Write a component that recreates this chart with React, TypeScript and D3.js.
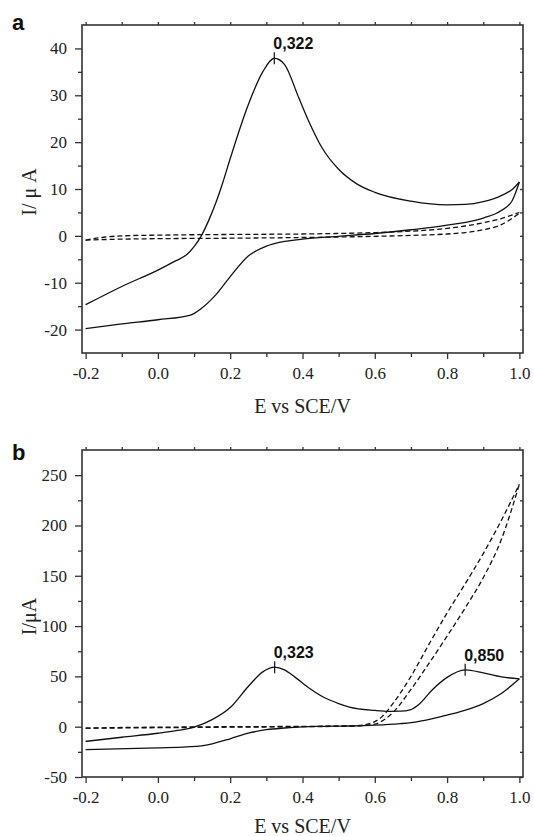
import React, { useEffect, useRef } from 'react';
import * as d3 from 'd3';

type Pt = [number, number];

// E (V vs SCE), I (µA); branches listed in ascending E
const aSolidForward: Pt[] = [
  [-0.2, -14.7], [-0.1, -10.8], [0.0, -7.3], [0.05, -5.3], [0.08, -4.0], [0.1, -2.3],
  [0.12, 0.0], [0.14, 3.2], [0.16, 7.0], [0.18, 11.5], [0.2, 16.5], [0.25, 28.0],
  [0.29, 35.0], [0.322, 37.9], [0.35, 36.6], [0.39, 29.4], [0.42, 24.0], [0.454, 18.8],
  [0.5, 14.2], [0.55, 11.1], [0.6, 9.3], [0.7, 7.4], [0.8, 6.6], [0.85, 6.7], [0.9, 7.3],
  [0.95, 8.6], [0.98, 9.9], [1.0, 11.5]
];
const aSolidReverse: Pt[] = [
  [-0.2, -19.8], [-0.1, -18.8], [0.0, -17.9], [0.09, -16.9], [0.12, -15.5], [0.16, -12.6],
  [0.2, -8.7], [0.25, -4.3], [0.3, -2.2], [0.35, -1.2], [0.4, -0.7], [0.5, -0.1],
  [0.6, 0.5], [0.7, 1.3], [0.8, 2.3], [0.9, 3.8], [0.95, 5.4], [0.98, 7.5], [1.0, 11.5]
];
const aDashedUpper: Pt[] = [
  [-0.2, -0.9], [-0.15, -0.3], [-0.1, 0.0], [0.0, 0.15], [0.2, 0.3], [0.4, 0.4],
  [0.6, 0.7], [0.7, 1.0], [0.8, 1.6], [0.85, 2.1], [0.9, 2.8], [0.95, 3.7], [1.0, 5.0]
];
const aDashedLower: Pt[] = [
  [-0.2, -0.9], [-0.1, -0.7], [0.0, -0.6], [0.2, -0.5], [0.4, -0.35], [0.6, -0.1],
  [0.7, 0.1], [0.8, 0.4], [0.85, 0.7], [0.9, 1.3], [0.95, 2.4], [1.0, 4.8]
];
const aPeakE = [0.322];
const aPeakI = [37.9];
const aPeakLabels = ['0,322'];

const bSolidForward: Pt[] = [
  [-0.2, -14.6], [-0.1, -10.5], [0.0, -6.5], [0.05, -4.0], [0.1, -0.5], [0.15, 7.0],
  [0.2, 19.0], [0.25, 40.0], [0.29, 54.5], [0.323, 59.2], [0.35, 56.5], [0.38, 49.0],
  [0.42, 38.0], [0.46, 29.0], [0.5, 23.0], [0.53, 19.5], [0.6, 16.2], [0.64, 15.3],
  [0.67, 15.4], [0.7, 17.0], [0.72, 21.5], [0.76, 37.0], [0.8, 49.0], [0.85, 56.5],
  [0.9, 53.5], [0.95, 49.5], [1.0, 47.6]
];
const bSolidReverse: Pt[] = [
  [-0.2, -22.8], [0.0, -21.0], [0.08, -20.0], [0.12, -19.0], [0.15, -17.0], [0.2, -12.0],
  [0.25, -6.5], [0.3, -3.0], [0.35, -1.3], [0.4, -0.2], [0.45, 0.3], [0.53, 0.7],
  [0.6, 1.5], [0.67, 3.0], [0.7, 4.0], [0.76, 8.0], [0.8, 11.5], [0.86, 17.5],
  [0.9, 23.0], [0.95, 33.0], [1.0, 47.6]
];
const bDashedLeft: Pt[] = [
  [-0.2, -1.5], [-0.1, -0.8], [0.0, -0.5], [0.2, 0.0], [0.4, 0.3], [0.5, 0.6],
  [0.55, 1.0], [0.58, 2.5], [0.6, 5.0], [0.62, 10.0], [0.65, 23.0], [0.7, 50.0],
  [0.75, 82.0], [0.8, 113.0], [0.85, 142.0], [0.9, 172.0], [0.95, 205.0], [1.0, 241.0]
];
const bDashedRight: Pt[] = [
  [-0.2, -1.5], [0.0, -1.0], [0.2, -0.5], [0.4, 0.0], [0.5, 0.4], [0.55, 0.8],
  [0.6, 2.5], [0.63, 8.0], [0.65, 14.0], [0.7, 37.0], [0.75, 63.0], [0.8, 90.0],
  [0.85, 118.0], [0.9, 148.0], [0.95, 186.0], [1.0, 241.0]
];
const bPeakE = [0.323, 0.85];
const bPeakI = [59.2, 56.5];
const bPeakLabels = ['0,323', '0,850'];

const xMajor = [-0.2, 0.0, 0.2, 0.4, 0.6, 0.8, 1.0];
const xMinor = [-0.1, 0.1, 0.3, 0.5, 0.7, 0.9];
const aYMajor = [-20, -10, 0, 10, 20, 30, 40];
const aYMinor = [-15, -5, 5, 15, 25, 35];
const bYMajor = [-50, 0, 50, 100, 150, 200, 250];
const bYMinor = [-25, 25, 75, 125, 175, 225];

const W = 534;
const H = 836;
const left = 82;
const right = 523;

const serif = '"Liberation Serif", "Times New Roman", serif';
const sans = '"Liberation Sans", Arial, sans-serif';

const App = () => {
  const ref = useRef<SVGSVGElement>(null);

  useEffect(() => {
    const svg = d3.select(ref.current);
    svg.selectAll('*').remove();

    const panels = [
      {
        tag: 'a', top: 25, bottom: 353, yDomain: [-25, 45], yMajor: aYMajor, yMinor: aYMinor,
        solid: [aSolidForward, aSolidReverse], dashed: [aDashedUpper, aDashedLower],
        peakE: aPeakE, peakI: aPeakI, peakLabels: aPeakLabels,
        yTitle: 'I/ \u03bc A', tagY: 30, titleY: 413
      },
      {
        tag: 'b', top: 450, bottom: 777, yDomain: [-50, 275], yMajor: bYMajor, yMinor: bYMinor,
        solid: [bSolidForward, bSolidReverse], dashed: [bDashedLeft, bDashedRight],
        peakE: bPeakE, peakI: bPeakI, peakLabels: bPeakLabels,
        yTitle: 'I/\u03bcA', tagY: 460, titleY: 833
      }
    ];

    const x = d3.scaleLinear().domain([-0.21, 1.01]).range([left, right]);

    panels.forEach(p => {
      const y = d3.scaleLinear().domain(p.yDomain).range([p.bottom, p.top]);
      const g = svg.append('g');

      const tickStyle = (sel: any) => {
        sel.select('.domain').remove();
        sel.selectAll('line').attr('stroke', '#333').attr('stroke-width', 1.3);
      };
      // minor ticks
      g.append('g').attr('transform', `translate(0,${p.bottom})`)
        .call(d3.axisBottom(x).tickValues(xMinor).tickSize(4).tickFormat(() => ''))
        .call(tickStyle);
      g.append('g').attr('transform', `translate(${left},0)`)
        .call(d3.axisLeft(y).tickValues(p.yMinor).tickSize(4).tickFormat(() => ''))
        .call(tickStyle);
      // top & right small ticks
      g.append('g').attr('transform', `translate(0,${p.top})`)
        .call(d3.axisTop(x).tickValues([...xMajor, ...xMinor]).tickSize(3).tickFormat(() => ''))
        .call(tickStyle);
      g.append('g').attr('transform', `translate(${right},0)`)
        .call(d3.axisLeft(y).tickValues([...p.yMajor, ...p.yMinor]).tickSize(3).tickFormat(() => ''))
        .call(tickStyle);

      // major ticks with labels
      const xa = g.append('g').attr('transform', `translate(0,${p.bottom})`)
        .call(d3.axisBottom(x).tickValues(xMajor).tickSize(6).tickPadding(8)
          .tickFormat(d => (+d).toFixed(1)))
        .call(tickStyle);
      const ya = g.append('g').attr('transform', `translate(${left},0)`)
        .call(d3.axisLeft(y).tickValues(p.yMajor).tickSize(7).tickPadding(8)
          .tickFormat(d => String(d)))
        .call(tickStyle);
      [xa, ya].forEach(a => a.selectAll('text')
        .attr('font-family', serif).attr('font-size', 17).attr('fill', '#222'));

      // frame
      g.append('rect')
        .attr('x', left).attr('y', p.top)
        .attr('width', right - left).attr('height', p.bottom - p.top)
        .attr('fill', 'none').attr('stroke', '#333').attr('stroke-width', 1.6);

      const line = d3.line<Pt>()
        .x(d => x(d[0]))
        .y(d => y(d[1]))
        .curve(d3.curveMonotoneX);

      g.selectAll('path.dashed')
        .data(p.dashed)
        .join('path')
        .attr('class', 'dashed')
        .attr('d', line)
        .attr('fill', 'none')
        .attr('stroke', '#111')
        .attr('stroke-width', 1.3)
        .attr('stroke-dasharray', '5,3');

      g.selectAll('path.solid')
        .data(p.solid)
        .join('path')
        .attr('class', 'solid')
        .attr('d', line)
        .attr('fill', 'none')
        .attr('stroke', '#111')
        .attr('stroke-width', 1.3);

      // peak markers
      p.peakE.forEach((e, i) => {
        const px = x(e);
        const py = y(p.peakI[i]);
        g.append('line')
          .attr('x1', px).attr('x2', px)
          .attr('y1', py - 6).attr('y2', py + 6)
          .attr('stroke', '#111').attr('stroke-width', 1.2);
        g.append('text')
          .attr('x', px - 1).attr('y', py - 9)
          .attr('font-family', sans).attr('font-weight', 'bold').attr('font-size', 16)
          .attr('fill', '#111')
          .text(p.peakLabels[i]);
      });

      // panel tag
      g.append('text')
        .attr('x', 12).attr('y', p.tagY)
        .attr('font-family', sans).attr('font-weight', 'bold').attr('font-size', 22)
        .attr('fill', '#111')
        .text(p.tag);

      // axis titles
      g.append('text')
        .attr('x', (left + right) / 2).attr('y', p.titleY)
        .attr('text-anchor', 'middle')
        .attr('font-family', serif).attr('font-size', 20).attr('fill', '#222')
        .text('E vs SCE/V');
      g.append('text')
        .attr('transform', `translate(36,${(p.top + p.bottom) / 2 + 3}) rotate(-90)`)
        .attr('text-anchor', 'middle')
        .attr('font-family', serif).attr('font-size', 20).attr('fill', '#222')
        .text(p.yTitle);
    });
  }, []);

  return (
    <svg ref={ref} width={W} height={H}
      style={{ position: 'absolute', left: 0, top: 0, background: '#fff' }} />
  );
};

export default App;
